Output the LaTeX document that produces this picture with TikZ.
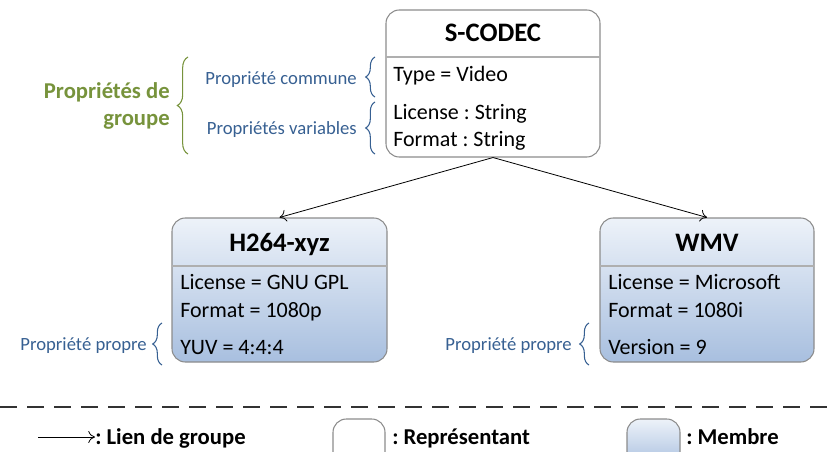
\documentclass[tikz,border=0pt]{standalone}
\usepackage{fontspec}
\setmainfont{Carlito}
\usetikzlibrary{decorations.pathreplacing,arrows.meta}
\frenchspacing

\definecolor{grpgreen}{HTML}{77933C}
\definecolor{propblue}{HTML}{376092}
\definecolor{boxgray}{HTML}{8C8C8C}
\definecolor{membtop}{HTML}{EDF2F9}
\definecolor{membbot}{HTML}{A8BFDF}

\tikzset{
  repbox/.style={draw=boxgray, line width=0.8pt, rounded corners=10pt, fill=white, inner sep=0pt},
  membox/.style={draw=boxgray, line width=0.8pt, rounded corners=10pt, top color=membtop, bottom color=membbot, inner sep=0pt},
  sepline/.style={draw=boxgray!70, line width=0.8pt},
  boxtitle/.style={font=\fontsize{20}{24}\selectfont\bfseries, inner sep=0pt, text height=13pt, text depth=0pt},
  boxline/.style={font=\fontsize{16.5}{20}\selectfont, anchor=west, inner sep=0pt, text height=10.7pt, text depth=0pt},
  proplabel/.style={font=\fontsize{14}{17}\selectfont, text=propblue, anchor=east, inner sep=0pt, text height=9.1pt, text depth=0pt},
  grplabel/.style={font=\fontsize{17}{20.7}\selectfont\bfseries, text=grpgreen, align=right, anchor=east, inner sep=0pt},
  propbrace/.style={draw=propblue, line width=0.8pt, decorate, decoration={brace, amplitude=7pt}},
  grpbrace/.style={draw=grpgreen, line width=0.8pt, decorate, decoration={brace, amplitude=8pt}},
  grouplink/.style={-{To[length=5pt,width=9pt]}, line width=0.6pt},
  legendtext/.style={font=\fontsize{17}{20}\selectfont\bfseries, anchor=west, inner sep=0pt, text height=11pt, text depth=0pt},
  legendrule/.style={draw=black!80, line width=1.1pt, dash pattern=on 12.75pt off 7.5pt},
}

\begin{document}
\begin{tikzpicture}[x=0.75pt, y=-0.75pt]
\useasboundingbox (0,0) rectangle (837,452);
\clip (0,0) rectangle (837,452);

\node[repbox, minimum width=160.5pt, minimum height=110.25pt] (scodec) at (493,83.5) {};
\node[membox, minimum width=161.25pt, minimum height=108pt] (h264) at (279.5,290) {};
\node[membox, minimum width=160.5pt, minimum height=108pt] (wmv) at (707,290) {};

\draw[sepline] (386,57) -- (600,57);
\draw[sepline] (172,266) -- (387,266);
\draw[sepline] (600,266) -- (814,266);

\node[boxtitle] (scodectitle) at (493,33) {S-CODEC};
\node[boxline] (stype) at (393,74) {Type = Video};
\node[boxline] (slicense) at (393,112) {License : String};
\node[boxline] (sformat) at (393,139) {Format : String};

\node[boxtitle] (h264title) at (279.5,243) {H264-xyz};
\node[boxline] (hlicense) at (180,282) {License = GNU GPL};
\node[boxline] (hformat) at (180,310) {Format = 1080p};
\node[boxline] (hyuv) at (180,347) {YUV = 4:4:4};

\node[boxtitle] (wmvtitle) at (707,243) {WMV};
\node[boxline] (wlicense) at (608,282) {License = Microsoft};
\node[boxline] (wformat) at (608,310) {Format = 1080i};
\node[boxline] (wversion) at (608,347) {Version = 9};

\draw[grouplink] (scodec.south) -- (h264.north);
\draw[grouplink] (scodec.south) -- (wmv.north);

\draw[propbrace] (375,97) -- (375,57);
\node[proplabel] (pcommune) at (357,78) {Propriété commune};
\draw[propbrace] (375,154) -- (375,102);
\node[proplabel] (pvariables) at (357,128) {Propriétés variables};
\draw[grpbrace] (188,154) -- (188,57);
\node[grplabel] (pgroupe) at (170,106) {Propriétés de\\groupe};

\draw[propbrace] (162,365) -- (162,323);
\node[proplabel] (hpropre) at (147,344) {Propriété propre};
\draw[propbrace] (589,365) -- (589,323);
\node[proplabel] (wpropre) at (572,344) {Propriété propre};

\draw[legendrule] (0,407) -- (837,407);
\coordinate (lienstart) at (38,437);
\node[legendtext] (lienlbl) at (95,437) {: Lien de groupe};
\draw[grouplink] (lienstart) -- (lienlbl.west);
\node[repbox, minimum width=39pt, minimum height=36pt] (replegend) at (359,443) {};
\node[legendtext] (replbl) at (392,437) {: Représentant};
\node[membox, minimum width=39.75pt, minimum height=36pt] (memlegend) at (653.5,443) {};
\node[legendtext] (memlbl) at (686,437) {: Membre};
\end{tikzpicture}
\end{document}
